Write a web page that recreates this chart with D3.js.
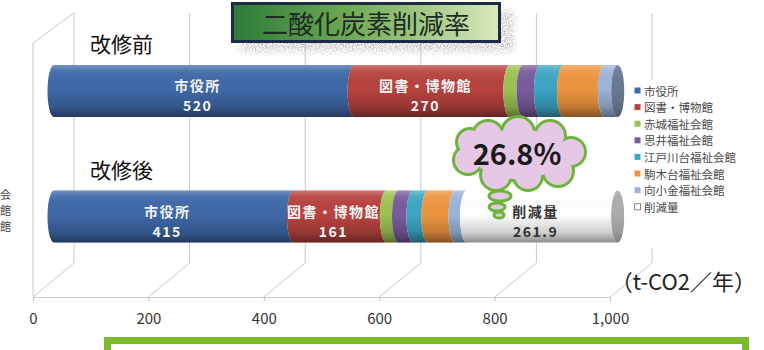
<!DOCTYPE html>
<html>
<head>
<meta charset="utf-8">
<script src="https://cdn.jsdelivr.net/npm/d3@7"></script>
<style>
  html, body { margin: 0; padding: 0; background: #fff; }
  svg { display: block; }
  text { font-family: "Noto Sans CJK JP", "Noto Sans", sans-serif; }
</style>
</head>
<body>
<svg id="chart" width="764" height="350"></svg>
<script>
// CO2 emissions per facility, before and after the retrofit (t-CO2 / year)
const categories = ["改修前", "改修後"];
const seriesNames = ["市役所", "図書・博物館", "赤城福祉会館", "思井福祉会館",
                     "江戸川台福祉会館", "駒木台福祉会館", "向小金福祉会館", "削減量"];
const cityHall     = [520, 415];
const library      = [270, 161];
const akagi        = [23, 21];
const omoi         = [30, 25];
const edogawadai   = [40, 26];
const komagidai    = [71, 47];
const mukaikogane  = [23, 20];
const reduction    = [0, 261.9];
const tickValues   = [0, 200, 400, 600, 800, 1000];
const labelledSeries = ["市役所", "図書・博物館", "削減量"];
const colors = ["#3f69a8", "#b8433f", "#9dc254", "#7a5c9e", "#3da6c4", "#ee9540", "#9db5d9", "#ffffff"];

const seriesValues = [cityHall, library, akagi, omoi, edogawadai, komagidai, mukaikogane, reduction];
const table = categories.map((c, i) => {
  const row = { category: c };
  seriesNames.forEach((s, j) => row[s] = seriesValues[j][i]);
  return row;
});
const beforeTotal = d3.sum(seriesNames.slice(0, 7), s => table[0][s]);
const rateText = d3.format(".1%")(reduction[1] / beforeTotal);

const svg = d3.select("#chart");
const defs = svg.append("defs");

svg.append("rect").attr("width", 764).attr("height", 350).attr("fill", "#fff");

// ---- scales (oblique 3D box: front floor edge, back wall, bar plane) ----
const front = d3.scaleLinear().domain([0, 1000]).range([33, 610]);
const back  = d3.scaleLinear().domain([0, 1000]).range([74, 652]);
const xBar  = d3.scaleLinear().domain([0, 1000]).range([54, 631]);
const yBar  = d3.scalePoint().domain(categories).range([91, 216.5]);
const barH = 52, capRx = 6.5;
const floorFront = 297, floorBack = 263, wallTop = 13;

// ---- green frame below ----
svg.append("rect").attr("x", 107.5).attr("y", 340.5).attr("width", 638).attr("height", 40)
  .attr("fill", "#fff").attr("stroke", "#7cba2c").attr("stroke-width", 7);

// ---- grid / walls ----
const grid = svg.append("g").attr("stroke", "#c9c9c9").attr("stroke-width", 1).attr("fill", "none");
grid.selectAll(".wall").data(tickValues).join("line")
  .attr("x1", d => back(d)).attr("x2", d => back(d))
  .attr("y1", wallTop).attr("y2", floorBack);
grid.selectAll(".floor").data(tickValues).join("line")
  .attr("x1", d => back(d)).attr("y1", floorBack)
  .attr("x2", d => front(d)).attr("y2", floorFront);
grid.append("line").attr("x1", front(0)).attr("x2", front(0)).attr("y1", 43).attr("y2", floorFront);
grid.append("line").attr("x1", front(0)).attr("y1", 43).attr("x2", back(0)).attr("y2", wallTop);

const axis = svg.append("g").attr("transform", `translate(0,${floorFront})`)
  .call(d3.axisBottom(front).tickValues(tickValues).tickFormat(d3.format(","))
    .tickSize(4).tickPadding(12));
axis.select(".domain").attr("stroke", "#c9c9c9");
axis.selectAll(".tick line").attr("stroke", "#bdbdbd");
axis.selectAll(".tick text")
  .attr("font-family", "'Open Sans', sans-serif").attr("font-size", 15).attr("fill", "#333");

// ---- title ----
const tg = defs.append("linearGradient").attr("id", "titleGrad");
tg.append("stop").attr("offset", "0%").attr("stop-color", "#2c7a38");
tg.append("stop").attr("offset", "45%").attr("stop-color", "#70ab55");
tg.append("stop").attr("offset", "100%").attr("stop-color", "#dbe9bd");

const grain = defs.append("filter").attr("id", "grain")
  .attr("x", "-10%").attr("y", "-40%").attr("width", "120%").attr("height", "180%");
grain.append("feGaussianBlur").attr("in", "SourceGraphic").attr("stdDeviation", 3).attr("result", "b");
grain.append("feTurbulence").attr("type", "fractalNoise").attr("baseFrequency", 0.9)
  .attr("numOctaves", 2).attr("seed", 4).attr("result", "n");
grain.append("feColorMatrix").attr("in", "n").attr("type", "matrix")
  .attr("values", "0 0 0 0 0.42  0 0 0 0 0.42  0 0 0 0 0.42  0 0 0 2.2 -0.75").attr("result", "nn");
grain.append("feComposite").attr("in", "nn").attr("in2", "b").attr("operator", "in");

svg.append("rect").attr("x", 240).attr("y", 10).attr("width", 274).attr("height", 42)
  .attr("fill", "#777").attr("filter", "url(#grain)");
svg.append("rect").attr("x", 232.5).attr("y", 3.5).attr("width", 267).attr("height", 38)
  .attr("fill", "url(#titleGrad)").attr("stroke", "#1c2a46").attr("stroke-width", 3);
svg.append("text").attr("x", 366).attr("y", 34).attr("text-anchor", "middle")
  .attr("font-size", 26).attr("fill", "#1d2b1f").text("二酸化炭素削減率");

// ---- category labels ----
svg.selectAll(".cat").data(categories).join("text")
  .attr("x", 90).attr("y", d => yBar(d) - 39)
  .attr("font-size", 21).attr("fill", "#111").text(d => d);

// ---- cylinders ----
const shade = defs.append("linearGradient").attr("id", "shade")
  .attr("x1", 0).attr("y1", 0).attr("x2", 0).attr("y2", 1);
[[0, "#fff", 0.28], [0.12, "#fff", 0.06], [0.45, "#000", 0], [0.8, "#000", 0.18], [1, "#000", 0.45]]
  .forEach(([o, c, a]) => shade.append("stop").attr("offset", o).attr("stop-color", c).attr("stop-opacity", a));

const stack = d3.stack().keys(seriesNames)(table);
function segPath(x0, x1, yc) {
  const yt = yc - barH / 2, yb = yc + barH / 2, ry = barH / 2;
  return `M${x0},${yt}A${capRx},${ry} 0 0 0 ${x0},${yb}L${x1},${yb}A${capRx},${ry} 0 0 1 ${x1},${yt}Z`;
}
const bars = svg.append("g");
stack.forEach((layer, si) => {
  layer.forEach((d, ci) => {
    if (d[1] - d[0] <= 0) return;
    const yc = yBar(categories[ci]);
    const p = segPath(xBar(d[0]), xBar(d[1]), yc);
    bars.append("path").attr("d", p).attr("fill", colors[si]);
    bars.append("path").attr("d", p).attr("fill", "url(#shade)");
  });
});
// end faces
categories.forEach((c, ci) => {
  let last = 0;
  stack.forEach((layer, si) => { if (layer[ci][1] - layer[ci][0] > 0) last = si; });
  const total = stack[stack.length - 1][ci][1];
  const capColor = d3.color(colors[last]).darker(1.1);
  bars.append("ellipse").attr("cx", xBar(total)).attr("cy", yBar(c))
    .attr("rx", capRx).attr("ry", barH / 2).attr("fill", capColor);
  bars.append("ellipse").attr("cx", xBar(total)).attr("cy", yBar(c))
    .attr("rx", capRx).attr("ry", barH / 2).attr("fill", "url(#shade)").attr("opacity", 0.6);
});

// segment labels
const labels = svg.append("g").attr("text-anchor", "middle").attr("font-weight", "bold");
stack.forEach((layer, si) => {
  if (!labelledSeries.includes(seriesNames[si])) return;
  layer.forEach((d, ci) => {
    const v = d[1] - d[0];
    if (v <= 0) return;
    const cx = (xBar(d[0]) + xBar(d[1])) / 2 - capRx;
    const yc = yBar(categories[ci]);
    const fill = seriesNames[si] === "削減量" ? "#333" : "#f4f4f4";
    labels.append("text").attr("x", cx).attr("y", yc)
      .attr("font-size", 14).attr("letter-spacing", 1.5).attr("fill", fill).text(seriesNames[si]);
    labels.append("text").attr("x", cx).attr("y", yc + 20)
      .attr("font-size", 14).attr("letter-spacing", 1.5).attr("fill", fill).text(d3.format(",")(v));
  });
});

// ---- thought cloud with the reduction rate ----
const cloud = svg.append("g").attr("transform", "translate(518,154)");
const bumps = [[-30, -18, 14], [0, -21, 15], [32, -18, 14], [53, -2, 13], [40, 17, 14],
               [10, 22, 13], [-22, 21, 14], [-50, 6, 13], [-48, -12, 12]];
const trail = [[-18, 42, 11, 5], [-21, 53, 8, 4], [-19, 61, 5, 3]];
const green = "#6db43c", pink = "#e6c8e6";
cloud.selectAll(".ob").data(bumps).join("circle")
  .attr("cx", d => d[0]).attr("cy", d => d[1]).attr("r", d => d[2] + 3).attr("fill", green);
cloud.append("ellipse").attr("rx", 48).attr("ry", 28).attr("fill", green);
cloud.selectAll(".ib").data(bumps).join("circle")
  .attr("cx", d => d[0]).attr("cy", d => d[1]).attr("r", d => d[2]).attr("fill", pink);
cloud.append("ellipse").attr("rx", 45).attr("ry", 25).attr("fill", pink);
cloud.selectAll(".tr").data(trail).join("ellipse")
  .attr("cx", d => d[0]).attr("cy", d => d[1]).attr("rx", d => d[2]).attr("ry", d => d[3])
  .attr("fill", pink).attr("stroke", green).attr("stroke-width", 3);
cloud.append("text").attr("x", -1).attr("y", 11).attr("text-anchor", "middle")
  .attr("font-family", "'Liberation Sans', Arial, sans-serif").attr("font-weight", "bold")
  .attr("font-size", 29).attr("fill", "#1a1a1a").text(rateText);

// ---- legend ----
const legend = svg.append("g");
legend.append("rect").attr("x", 628).attr("y", 80).attr("width", 136).attr("height", 168).attr("fill", "#fff");
const li = legend.selectAll(".li").data(seriesNames).join("g")
  .attr("transform", (d, i) => `translate(634,${91 + i * 16.6})`);
li.append("rect").attr("x", 0.5).attr("y", -3.5).attr("width", 6).attr("height", 6)
  .attr("fill", (d, i) => colors[i])
  .attr("stroke", (d, i) => i === seriesNames.length - 1 ? "#888" : "none");
li.append("text").attr("x", 10).attr("y", 4.5).attr("font-size", 11.5).attr("fill", "#4a4a4a").text(d => d);

// unit
svg.append("text").attr("x", 756).attr("y", 290).attr("text-anchor", "end")
  .attr("font-size", 22).attr("fill", "#222").text("（t-CO2／年）");

// neighbouring legend entries at the page edge
const edge = svg.append("g").attr("font-size", 11).attr("fill", "#444");
edge.append("text").attr("x", 0).attr("y", 199).text("会");
edge.append("text").attr("x", 0).attr("y", 215).text("館");
edge.append("text").attr("x", 0).attr("y", 231).text("館");
</script>
</body>
</html>
